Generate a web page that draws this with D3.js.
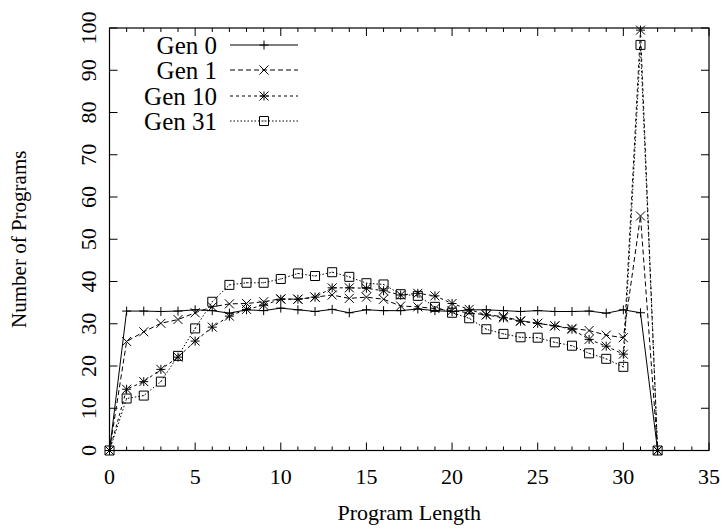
<!DOCTYPE html>
<html>
<head>
<meta charset="utf-8">
<script src="https://cdn.jsdelivr.net/npm/d3@7"></script>
<style>
  body { margin: 0; background: #fff; }
  text { font-family: "Liberation Serif", "DejaVu Serif", serif; fill: #000; }
</style>
</head>
<body>
<div id="chart"></div>
<script>
// data
const lengths = d3.range(0, 33);
const seriesNames = ["Gen 0", "Gen 1", "Gen 10", "Gen 31"];
const gen0 = [0, 33.0, 33.0, 32.9, 33.0, 33.3, 33.1, 32.5, 33.3, 33.1, 33.7, 33.3, 32.9,
  33.4, 32.6, 33.3, 33.1, 33.1, 33.5, 33.1, 32.9, 33.3, 33.3, 33.1, 32.9,
  33.1, 32.9, 32.9, 33.0, 32.5, 33.3, 32.6, 0];
const gen1 = [0, 25.8, 28.1, 30.1, 31.0, 32.6, 34.0, 34.7, 34.8, 35.2, 35.9, 35.8, 36.3,
  36.8, 36.0, 36.3, 35.8, 34.2, 34.0, 33.6, 33.1, 32.6, 32.1, 31.7, 30.7,
  30.1, 29.5, 28.9, 28.4, 27.3, 26.7, 55.5, 0];
const gen10 = [0, 14.5, 16.3, 19.2, 22.1, 25.9, 29.2, 31.8, 33.4, 34.4, 35.8, 35.8, 36.3,
  38.5, 38.5, 38.4, 37.8, 36.8, 37.2, 36.6, 34.8, 33.4, 32.1, 31.4, 30.6,
  30.1, 29.5, 28.7, 26.3, 24.7, 22.8, 99.5, 0];
const gen31 = [0, 12.3, 13.0, 16.3, 22.4, 28.9, 35.2, 39.2, 39.7, 39.7, 40.6, 41.9, 41.3,
  42.2, 41.1, 39.6, 39.3, 37.0, 36.6, 34.0, 32.6, 31.3, 28.7, 27.6, 26.8,
  26.7, 25.6, 24.8, 23.0, 21.7, 19.8, 96.0, 0];
const xTicks = d3.range(0, 36, 5);
const yTicks = d3.range(0, 101, 10);

const width = 723, height = 532;
const margin = {top: 28, right: 14, bottom: 81.5, left: 109.5};
const plotW = width - margin.left - margin.right;
const plotH = height - margin.top - margin.bottom;

const svg = d3.select("#chart").append("svg")
  .attr("width", width).attr("height", height);

const x = d3.scaleLinear().domain([0, 35]).range([margin.left, margin.left + plotW]);
const y = d3.scaleLinear().domain([0, 100]).range([margin.top + plotH, margin.top]);

// frame
svg.append("rect")
  .attr("x", x(0)).attr("y", y(100))
  .attr("width", x(35) - x(0)).attr("height", y(0) - y(100))
  .attr("fill", "none").attr("stroke", "#000").attr("stroke-width", 1.2);

// x ticks: minor every 1, major every 5, on bottom and top
const g = svg.append("g").attr("stroke", "#000").attr("stroke-width", 1);
d3.range(0, 36).forEach(v => {
  const len = v % 5 === 0 ? 8 : 4;
  g.append("line").attr("x1", x(v)).attr("x2", x(v)).attr("y1", y(0)).attr("y2", y(0) - len);
  g.append("line").attr("x1", x(v)).attr("x2", x(v)).attr("y1", y(100)).attr("y2", y(100) + len);
});
yTicks.forEach(v => {
  g.append("line").attr("x1", x(0)).attr("x2", x(0) + 8).attr("y1", y(v)).attr("y2", y(v));
  g.append("line").attr("x1", x(35)).attr("x2", x(35) - 8).attr("y1", y(v)).attr("y2", y(v));
});

svg.selectAll(".xlab").data(xTicks).join("text")
  .attr("x", d => x(d)).attr("y", y(0) + 33)
  .attr("text-anchor", "middle").style("font-size", "22px")
  .text(d => d);

svg.selectAll(".ylab").data(yTicks).join("text")
  .attr("transform", d => `translate(${x(0) - 14},${y(d)}) rotate(-90)`)
  .attr("text-anchor", "middle").style("font-size", "22px")
  .text(d => d);

svg.append("text")
  .attr("x", x(17.5)).attr("y", 520)
  .attr("text-anchor", "middle").style("font-size", "22px")
  .text("Program Length");

svg.append("text")
  .attr("transform", `translate(26,${y(50)}) rotate(-90)`)
  .attr("text-anchor", "middle").style("font-size", "21px")
  .text("Number of Programs");

// markers
function marker(type, s) {
  if (type === "plus") return `M${-s},0H${s}M0,${-s}V${s}`;
  if (type === "cross") return `M${-s},${-s}L${s},${s}M${-s},${s}L${s},${-s}`;
  if (type === "star") return `M${-s},0H${s}M0,${-s}V${s}M${-s},${-s}L${s},${s}M${-s},${s}L${s},${-s}`;
  return `M${-s},${-s}H${s}V${s}H${-s}Z M-0.5,0H0.5`;
}

const series = [
  {name: seriesNames[0], values: gen0, dash: null, mark: "plus"},
  {name: seriesNames[1], values: gen1, dash: "5,3", mark: "cross"},
  {name: seriesNames[2], values: gen10, dash: "3,3", mark: "star"},
  {name: seriesNames[3], values: gen31, dash: "1.5,2", mark: "square"}
];

const line = d3.line().x((d, i) => x(lengths[i])).y(d => y(d));

series.forEach(s => {
  svg.append("path")
    .attr("d", line(s.values))
    .attr("fill", "none").attr("stroke", "#000").attr("stroke-width", 1)
    .attr("stroke-dasharray", s.dash);
  svg.selectAll(null).data(s.values).join("path")
    .attr("transform", (d, i) => `translate(${x(lengths[i])},${y(d)})`)
    .attr("d", marker(s.mark, 4.5))
    .attr("fill", "none").attr("stroke", "#000").attr("stroke-width", 1);
});

// legend
const legY = [45, 70, 96, 121];
series.forEach((s, i) => {
  svg.append("text")
    .attr("x", 217).attr("y", legY[i]).attr("dy", "0.35em")
    .attr("text-anchor", "end").style("font-size", "25px")
    .text(s.name);
  svg.append("line")
    .attr("x1", 230).attr("x2", 298).attr("y1", legY[i]).attr("y2", legY[i])
    .attr("stroke", "#000").attr("stroke-width", 1)
    .attr("stroke-dasharray", s.dash);
  svg.append("path")
    .attr("transform", `translate(264,${legY[i]})`)
    .attr("d", marker(s.mark, 4.5))
    .attr("fill", "none").attr("stroke", "#000");
});
</script>
</body>
</html>
